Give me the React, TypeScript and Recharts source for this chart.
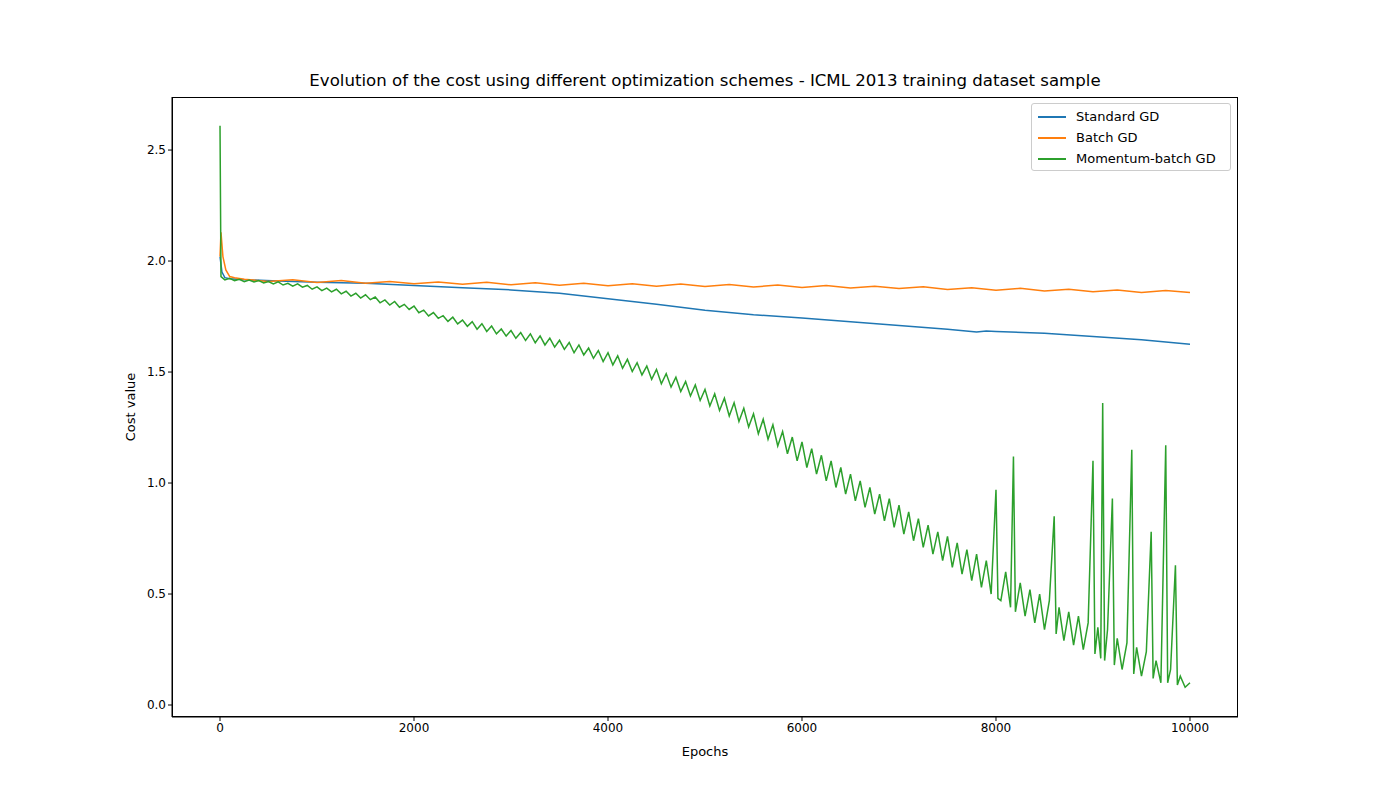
import React from "react";
import { LineChart, Line, XAxis, YAxis } from "recharts";

const standardEpochs = [0, 20, 50, 100, 300, 600, 1000, 1500, 2000, 2500, 3000, 3500, 4000, 4500, 5000, 5500, 6000, 6500, 7000, 7500, 7800, 7900, 8000, 8500, 9000, 9500, 10000];
const standardCost = [2.02, 1.95, 1.925, 1.92, 1.915, 1.91, 1.905, 1.9, 1.89, 1.88, 1.87, 1.855, 1.83, 1.805, 1.778, 1.758, 1.743, 1.727, 1.71, 1.693, 1.68, 1.685, 1.683, 1.675, 1.66, 1.645, 1.625];

const batchEpochs = [0, 10, 30, 60, 100, 150, 250, 500, 750, 1000, 1250, 1500, 1750, 2000, 2250, 2500, 2750, 3000, 3250, 3500, 3750, 4000, 4250, 4500, 4750, 5000, 5250, 5500, 5750, 6000, 6250, 6500, 6750, 7000, 7250, 7500, 7750, 8000, 8250, 8500, 8750, 9000, 9250, 9500, 9750, 10000];
const batchCost = [2.02, 2.13, 2.02, 1.96, 1.93, 1.925, 1.918, 1.908, 1.916, 1.903, 1.912, 1.9, 1.908, 1.898, 1.906, 1.896, 1.905, 1.893, 1.902, 1.891, 1.9, 1.889, 1.898, 1.887, 1.897, 1.885, 1.894, 1.883, 1.892, 1.881, 1.89, 1.879, 1.887, 1.876, 1.884, 1.872, 1.88, 1.869, 1.877, 1.865, 1.873, 1.862, 1.87, 1.858, 1.867, 1.858];

const momentumEpochs = [0, 10, 50, 100, 150, 200, 250, 300, 350, 400, 450, 500, 550, 600, 650, 700, 750, 800, 850, 900, 950, 1000, 1050, 1100, 1150, 1200, 1250, 1300, 1350, 1400, 1450, 1500, 1550, 1600, 1650, 1700, 1750, 1800, 1850, 1900, 1950, 2000, 2050, 2100, 2150, 2200, 2250, 2300, 2350, 2400, 2450, 2500, 2550, 2600, 2650, 2700, 2750, 2800, 2850, 2900, 2950, 3000, 3050, 3100, 3150, 3200, 3250, 3300, 3350, 3400, 3450, 3500, 3550, 3600, 3650, 3700, 3750, 3800, 3850, 3900, 3950, 4000, 4050, 4100, 4150, 4200, 4250, 4300, 4350, 4400, 4450, 4500, 4550, 4600, 4650, 4700, 4750, 4800, 4850, 4900, 4950, 5000, 5050, 5100, 5150, 5200, 5250, 5300, 5350, 5400, 5450, 5500, 5550, 5600, 5650, 5700, 5750, 5800, 5850, 5900, 5950, 6000, 6050, 6100, 6150, 6200, 6250, 6300, 6350, 6400, 6450, 6500, 6550, 6600, 6650, 6700, 6750, 6800, 6850, 6900, 6950, 7000, 7050, 7100, 7150, 7200, 7250, 7300, 7350, 7400, 7450, 7500, 7550, 7600, 7650, 7700, 7750, 7800, 7850, 7900, 7950, 8000, 8020, 8050, 8100, 8150, 8180, 8200, 8250, 8300, 8350, 8400, 8450, 8500, 8550, 8600, 8620, 8650, 8700, 8750, 8800, 8850, 8900, 8950, 9000, 9020, 9050, 9080, 9100, 9120, 9150, 9200, 9220, 9250, 9300, 9350, 9400, 9420, 9450, 9500, 9550, 9600, 9620, 9650, 9700, 9750, 9770, 9800, 9850, 9870, 9900, 9950, 10000];
const momentumCost = [2.61, 1.93, 1.915, 1.922, 1.912, 1.918, 1.907, 1.914, 1.906, 1.912, 1.901, 1.908, 1.897, 1.906, 1.892, 1.9, 1.887, 1.897, 1.882, 1.89, 1.873, 1.884, 1.867, 1.878, 1.861, 1.873, 1.852, 1.864, 1.842, 1.855, 1.833, 1.848, 1.826, 1.838, 1.812, 1.825, 1.802, 1.818, 1.792, 1.805, 1.782, 1.797, 1.767, 1.779, 1.753, 1.768, 1.742, 1.754, 1.728, 1.747, 1.717, 1.734, 1.706, 1.727, 1.693, 1.718, 1.683, 1.707, 1.672, 1.694, 1.662, 1.687, 1.652, 1.678, 1.642, 1.672, 1.632, 1.663, 1.622, 1.653, 1.612, 1.643, 1.602, 1.633, 1.587, 1.622, 1.577, 1.608, 1.562, 1.597, 1.547, 1.587, 1.532, 1.573, 1.517, 1.557, 1.502, 1.542, 1.487, 1.527, 1.467, 1.512, 1.447, 1.493, 1.432, 1.477, 1.412, 1.457, 1.392, 1.442, 1.372, 1.422, 1.347, 1.402, 1.327, 1.382, 1.302, 1.362, 1.277, 1.337, 1.252, 1.312, 1.222, 1.287, 1.197, 1.262, 1.167, 1.232, 1.132, 1.207, 1.1, 1.185, 1.07, 1.155, 1.04, 1.125, 1.01, 1.1, 0.98, 1.07, 0.95, 1.04, 0.92, 1.01, 0.89, 0.98, 0.86, 0.95, 0.83, 0.93, 0.8, 0.9, 0.77, 0.87, 0.74, 0.84, 0.71, 0.81, 0.68, 0.78, 0.65, 0.76, 0.62, 0.73, 0.59, 0.7, 0.56, 0.68, 0.53, 0.65, 0.5, 0.97, 0.48, 0.47, 0.6, 0.44, 1.12, 0.42, 0.55, 0.4, 0.52, 0.37, 0.5, 0.34, 0.47, 0.85, 0.32, 0.44, 0.29, 0.42, 0.27, 0.4, 0.25, 0.37, 1.1, 0.23, 0.35, 0.21, 1.36, 0.2, 0.34, 0.93, 0.18, 0.3, 0.16, 0.28, 1.15, 0.14, 0.26, 0.13, 0.24, 0.78, 0.12, 0.2, 0.1, 1.17, 0.1, 0.16, 0.63, 0.09, 0.13, 0.08, 0.1];

const xTicks = [0, 2000, 4000, 6000, 8000, 10000];
const yTicks = [0, 0.5, 1.0, 1.5, 2.0, 2.5];
const seriesNames = ["Standard GD", "Batch GD", "Momentum-batch GD"];
const colors = ["#1f77b4", "#ff7f0e", "#2ca02c"];

const toData = (xs: number[], ys: number[]) => xs.map((x, i) => ({ x, y: ys[i] }));
const standardData = toData(standardEpochs, standardCost);
const batchData = toData(batchEpochs, batchCost);
const momentumData = toData(momentumEpochs, momentumCost);

const font = "'DejaVu Sans', sans-serif";
const tickStyle = { fontSize: 12, fill: "#000", fontFamily: font };

export default function App() {
  return (
    <div style={{ position: "relative", width: 1375, height: 806, margin: -8, background: "#fff", fontFamily: font }}>
      <div style={{ position: "absolute", left: 172, width: 1066, top: 71, textAlign: "center", fontSize: 16.6, color: "#000" }}>
        Evolution of the cost using different optimization schemes - ICML 2013 training dataset sample
      </div>
      <LineChart width={1375} height={806} margin={{ top: 97, right: 137, left: 0, bottom: 0 }}>
        <XAxis dataKey="x" type="number" domain={[-495, 10495]} ticks={xTicks} allowDuplicatedCategory={false}
          height={89} tick={tickStyle} tickSize={4} stroke="#000" tickLine={{ stroke: "#000" }}
          label={{ value: "Epochs", position: "insideTop", offset: 30, style: { fontSize: 13, fill: "#000", fontFamily: font } }} />
        <YAxis dataKey="y" type="number" domain={[-0.054, 2.739]} ticks={yTicks} width={172} tick={tickStyle} tickSize={4}
          stroke="#000" tickFormatter={(v: number) => v.toFixed(1)}
          label={{ value: "Cost value", angle: -90, position: "insideRight", offset: 42, style: { fontSize: 13, fill: "#000", fontFamily: font, textAnchor: "middle" } }} />
        <Line data={standardData} dataKey="y" stroke={colors[0]} strokeWidth={1.5} dot={false} isAnimationActive={false} />
        <Line data={batchData} dataKey="y" stroke={colors[1]} strokeWidth={1.5} dot={false} isAnimationActive={false} />
        <Line data={momentumData} dataKey="y" stroke={colors[2]} strokeWidth={1.5} dot={false} isAnimationActive={false} />
      </LineChart>
      <div style={{ position: "absolute", left: 172, top: 97, width: 1066, height: 620, boxSizing: "border-box", border: "1px solid #000", pointerEvents: "none" }} />
      <div style={{ position: "absolute", left: 1031, top: 103, width: 198, height: 66, border: "1px solid #ccc", borderRadius: 3, background: "#fff", fontSize: 13 }}>
        {seriesNames.map((n, i) => (
          <div key={n} style={{ display: "flex", alignItems: "center", height: 21, marginTop: i === 0 ? 2 : 0 }}>
            <div style={{ width: 28, height: 2, background: colors[i], marginLeft: 6, marginRight: 10 }} />
            <span>{n}</span>
          </div>
        ))}
      </div>
    </div>
  );
}
